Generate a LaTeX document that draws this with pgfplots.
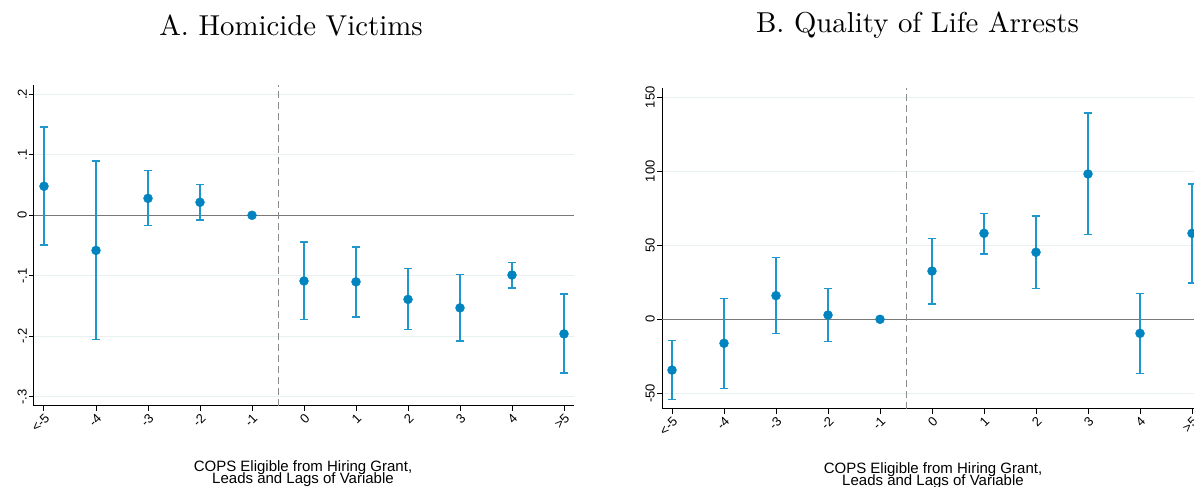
\documentclass[border=0pt]{standalone}
\usepackage{fontspec}
\usepackage{pgfplots}
\usepackage{pgfplotstable}
\pgfplotsset{compat=1.18}
\newfontfamily\sansf{Liberation Sans}
\newfontfamily\titlef{lmroman10-regular}[Extension=.otf]
\definecolor{markc}{RGB}{0,132,192}
\definecolor{barc}{RGB}{30,152,204}
\definecolor{gridc}{RGB}{232,240,242}
\definecolor{zeroc}{RGB}{120,120,120}
\definecolor{dashc}{RGB}{140,140,140}

\pgfplotstableread{
x y hi lo
0 0.048 0.146 -0.049
1 -0.058 0.090 -0.205
2 0.028 0.074 -0.017
3 0.0215 0.051 -0.008
5 -0.1086 -0.044 -0.1725
6 -0.110 -0.052 -0.168
7 -0.139 -0.088 -0.189
8 -0.153 -0.0975 -0.208
9 -0.0987 -0.078 -0.120
10 -0.196 -0.130 -0.261
}\homicide

\pgfplotstableread{
x y hi lo
0 -34.3 -14.4 -54.3
1 -16.2 14.2 -46.6
2 16.0 41.9 -9.7
3 2.9 20.7 -14.9
5 32.6 54.5 10.3
6 58.1 71.6 44.3
7 45.3 69.8 20.9
8 98.2 139.4 57.4
9 -9.5 17.3 -36.5
10 58.1 91.4 24.7
}\quality

\pgfplotsset{
  panel/.style={
    scale only axis, width=539.88bp, height=320.7bp,
    axis x line*=bottom, axis y line*=left,
    axis line style={black, line width=1bp},
    tick align=outside, major tick length=5bp,
    tick style={black, line width=1bp},
    xmin=-0.1923, xmax=10.19,
    xtick={0,1,2,3,4,5,6,7,8,9,10},
    xticklabels={{<-5},{-4},{-3},{-2},{-1},{0},{1},{2},{3},{4},{>5}},
    xticklabel style={rotate=45, anchor=north east, inner sep=1.5bp,
      font=\sansf\fontsize{13bp}{15bp}\selectfont},
    yticklabel style={rotate=90, anchor=south, inner sep=2bp,
      font=\sansf\fontsize{13bp}{15bp}\selectfont},
    ymajorgrids, major grid style={gridc, line width=1bp},
    clip=false,
  },
  bars/.style={only marks, mark=none, draw=barc, line width=1.8bp,
    error bars/.cd, y dir=both, y explicit,
    error bar style={draw=barc, line width=1.8bp, solid},
    error mark=-,
    error mark options={draw=barc, rotate=90, mark size=4bp, line width=1.5bp, solid}},
  dots/.style={only marks, mark=*, mark size=4.5bp, color=markc,
    mark options={fill=markc, draw=markc, solid}},
}

\begin{document}
\begin{tikzpicture}
% Panel A
\begin{axis}[panel, at={(34bp,81.3bp)}, anchor=south west,
  ymin=-0.3147, ymax=0.2154,
  ytick={-0.3,-0.2,-0.1,0,0.1,0.2},
  yticklabels={{-.3},{-.2},{-.1},{0},{.1},{.2}}]
  \addplot[zeroc, line width=1.2bp, mark=none] coordinates {(-0.1923,0) (10.19,0)};
  \addplot[dashc, line width=1bp, mark=none, dash pattern=on 7bp off 4bp] coordinates {(4.51,-0.3147) (4.51,0.2154)};
  \addplot[bars] table[x=x, y=y, y error plus expr=\thisrow{hi}-\thisrow{y}, y error minus expr=\thisrow{y}-\thisrow{lo}] {\homicide};
  \addplot[dots] table[x=x, y=y] {\homicide};
  \addplot[dots] coordinates {(4,0)};
\end{axis}
% Panel B
\begin{axis}[panel, at={(662bp,78bp)}, anchor=south west,
  ymin=-60.6, ymax=156.1,
  ytick={-50,0,50,100,150},
  yticklabels={{-50},{0},{50},{100},{150}}]
  \addplot[zeroc, line width=1.2bp, mark=none] coordinates {(-0.1923,0) (10.19,0)};
  \addplot[dashc, line width=1bp, mark=none, dash pattern=on 7bp off 4bp] coordinates {(4.51,-60.6) (4.51,156.1)};
  \addplot[bars] table[x=x, y=y, y error plus expr=\thisrow{hi}-\thisrow{y}, y error minus expr=\thisrow{y}-\thisrow{lo}] {\quality};
  \addplot[dots] table[x=x, y=y] {\quality};
  \addplot[dots] coordinates {(4,0)};
\end{axis}
% Titles
\node[anchor=base, inner sep=0pt, font=\titlef\fontsize{28.8bp}{32bp}\selectfont] at (291bp,451bp) {A. Homicide Victims};
\node[anchor=base, inner sep=0pt, font=\titlef\fontsize{28.8bp}{32bp}\selectfont] at (917.5bp,454bp) {B. Quality of Life Arrests};
% Axis titles
\node[anchor=base, inner sep=0pt, font=\sansf\fontsize{15bp}{17bp}\selectfont] at (303bp,16bp) {COPS Eligible from Hiring Grant,};
\node[anchor=base, inner sep=0pt, font=\sansf\fontsize{15bp}{17bp}\selectfont] at (303bp,3.5bp) {Leads and Lags of Variable};
\node[anchor=base, inner sep=0pt, font=\sansf\fontsize{15bp}{17bp}\selectfont] at (933bp,14bp) {COPS Eligible from Hiring Grant,};
\node[anchor=base, inner sep=0pt, font=\sansf\fontsize{15bp}{17bp}\selectfont] at (933bp,1.5bp) {Leads and Lags of Variable};
\pgfresetboundingbox
\useasboundingbox (0,0) rectangle (1194bp,487bp);
\end{tikzpicture}
\end{document}
